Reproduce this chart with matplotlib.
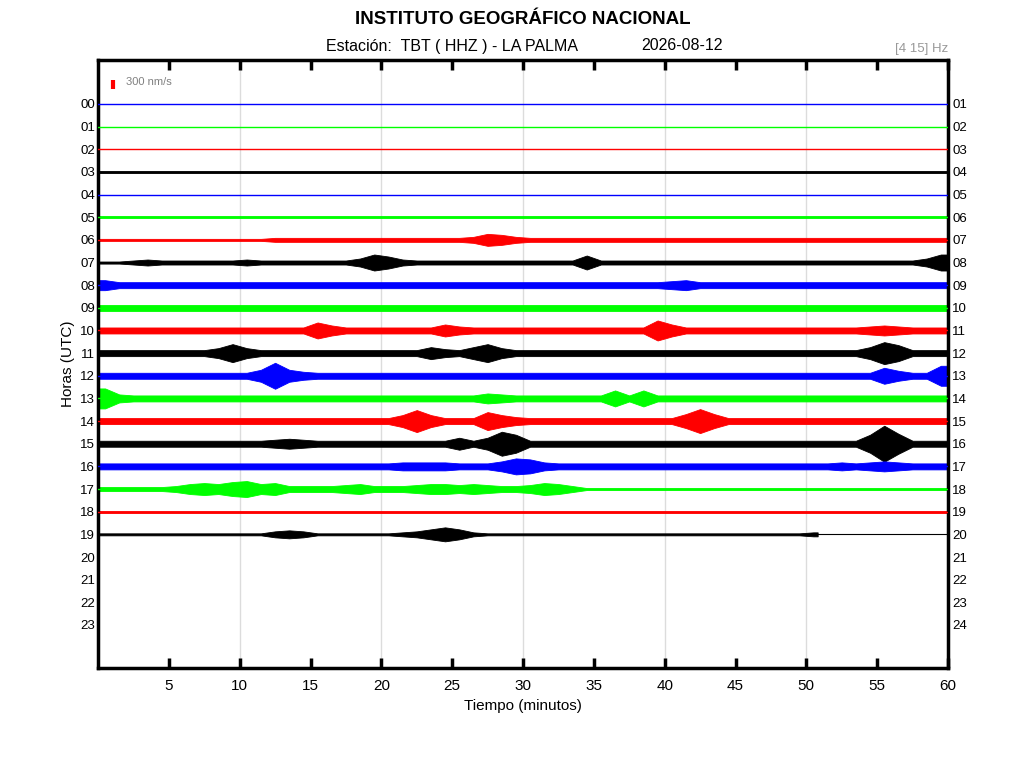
import numpy as np
import matplotlib
matplotlib.use("Agg")
import matplotlib.pyplot as plt

plt.rcParams['font.family'] = ['Liberation Sans', 'DejaVu Sans']

# helicorder: one row per hour, envelope half-amplitude (pixels) per minute, base-36 digits
hours = list(range(24))
left_labels = ["%02d" % h for h in hours]
right_labels = ["%02d" % (h + 1) for h in hours]
trace_colors = ['#0000ff', '#00ff00', '#ff0000', '#000000']
envelopes = [
    "0" * 60,                                                    # 00
    "0" * 60,                                                    # 01
    "0" * 60,                                                    # 02
    "1" * 60,                                                    # 03
    "0" * 60,                                                    # 04
    "1" * 60,                                                    # 05
    "1" * 12 + "2" * 14 + "3653" + "2" * 30,                     # 06
    "11" + "23" + "2" * 6 + "3" + "2" * 7 + "4863" + "2" * 12 + "7" + "2" * 23 + "48",  # 07
    "5" + "3" * 39 + "45" + "3" * 18,                            # 08
    "3" * 60,                                                    # 09
    "3" * 15 + "85" + "3" * 7 + "64" + "3" * 13 + "a6" + "3" * 13 + "454" + "333",     # 10
    "3" * 8 + "595" + "3" * 12 + "643" + "695" + "3" * 25 + "6b8" + "333",            # 11
    "3" * 11 + "6d64" + "3" * 40 + "85" + "33" + "a",             # 12
    "a4" + "3" * 25 + "54" + "3" * 7 + "838" + "3" * 21,          # 13
    "3" * 21 + "6b6" + "333" + "964" + "3" * 11 + "7c7" + "3" * 16,                   # 14
    "3" * 12 + "454" + "3" * 10 + "63" + "6c9" + "3" * 24 + "9ia" + "333",            # 15
    "3" * 21 + "4444" + "333" + "5874" + "3" * 20 + "43" + "454" + "333",             # 16
    "2" * 5 + "35657856" + "3333" + "453" + "33" + "455454" + "33" + "4653" + "1" * 26,  # 17
    "1" * 60,                                                    # 18
    "1" * 12 + "343" + "1" * 6 + "235752" + "1" * 23 + "2",       # 19 (data stops ~50.8 min)
]
data_end_19 = 50.8
xticks = [5, 10, 15, 20, 25, 30, 35, 40, 45, 50, 55, 60]
grid_x = [10, 20, 30, 40, 50]

px_per_row = 22.65

fig = plt.figure(figsize=(10.24, 7.68), dpi=100)
ax = fig.add_axes([98 / 1024, 100 / 768, 850 / 1024, 608 / 768])

for gx in grid_x:
    ax.axvline(gx, color='#dcdcdc', lw=1, zorder=0)

for r, env in enumerate(envelopes):
    col = trace_colors[r % 4]
    amp = np.array([int(c, 36) for c in env]) / px_per_row
    t = np.arange(len(amp)) + 0.5
    end = data_end_19 if r == 19 else 60
    t = np.r_[0, t[t < end], end]
    a = np.r_[amp[0], amp[:len(t) - 2], amp[len(t) - 3]]
    ax.fill_between(t, r - a, r + a, color=col, lw=0.6, edgecolor=col, zorder=2)
    ax.plot([0, 60], [r, r], color=col, lw=1.0 if r < 19 else 0.8, zorder=3)

ax.set_xlim(0, 60)
ax.set_ylim(24.9, -1.94)
ax.set_xticks(xticks)
ax.set_xticklabels([str(v) for v in xticks], fontsize=11)
ax.tick_params(axis='x', direction='in', length=7, width=2.5, top=True, pad=8)
ax.set_yticks(hours)
ax.set_yticklabels(left_labels, fontsize=9.5)
ax.tick_params(axis='y', length=0, pad=2)
for s in ax.spines.values():
    s.set_linewidth(2.5)

sec = ax.secondary_yaxis('right')
sec.set_yticks(hours)
sec.set_yticklabels(right_labels, fontsize=9.5)
sec.tick_params(length=0, pad=3)
sec.spines['right'].set_visible(False)

ax.set_xlabel("Tiempo (minutos)", fontsize=11, labelpad=4)
ax.set_ylabel("Horas (UTC)", fontsize=11, labelpad=4)

# amplitude scale bar
ax.plot([1.05, 1.05], [-1.05, -0.65], color='#ff0000', lw=3, solid_capstyle='butt')
ax.text(2.0, -0.97, "300 nm/s", fontsize=8, color='#808080', va='center')

fig.text(523 / 1024, 1 - 19 / 768, "INSTITUTO GEOGRÁFICO NACIONAL", ha='center', va='center',
         fontsize=13.5, fontweight='bold')
fig.text(452 / 1024, 1 - 46 / 768, "Estación:  TBT ( HHZ ) - LA PALMA", ha='center', va='center',
         fontsize=11.5)
fig.text(682 / 1024, 1 - 46 / 768, "2026-08-12", ha='center', va='center', fontsize=11.5)
fig.text(948 / 1024, 1 - 49 / 768, "[4 15] Hz", ha='right', va='center', fontsize=9.5,
         color='#999999')

fig.savefig("out.png", dpi=100)
